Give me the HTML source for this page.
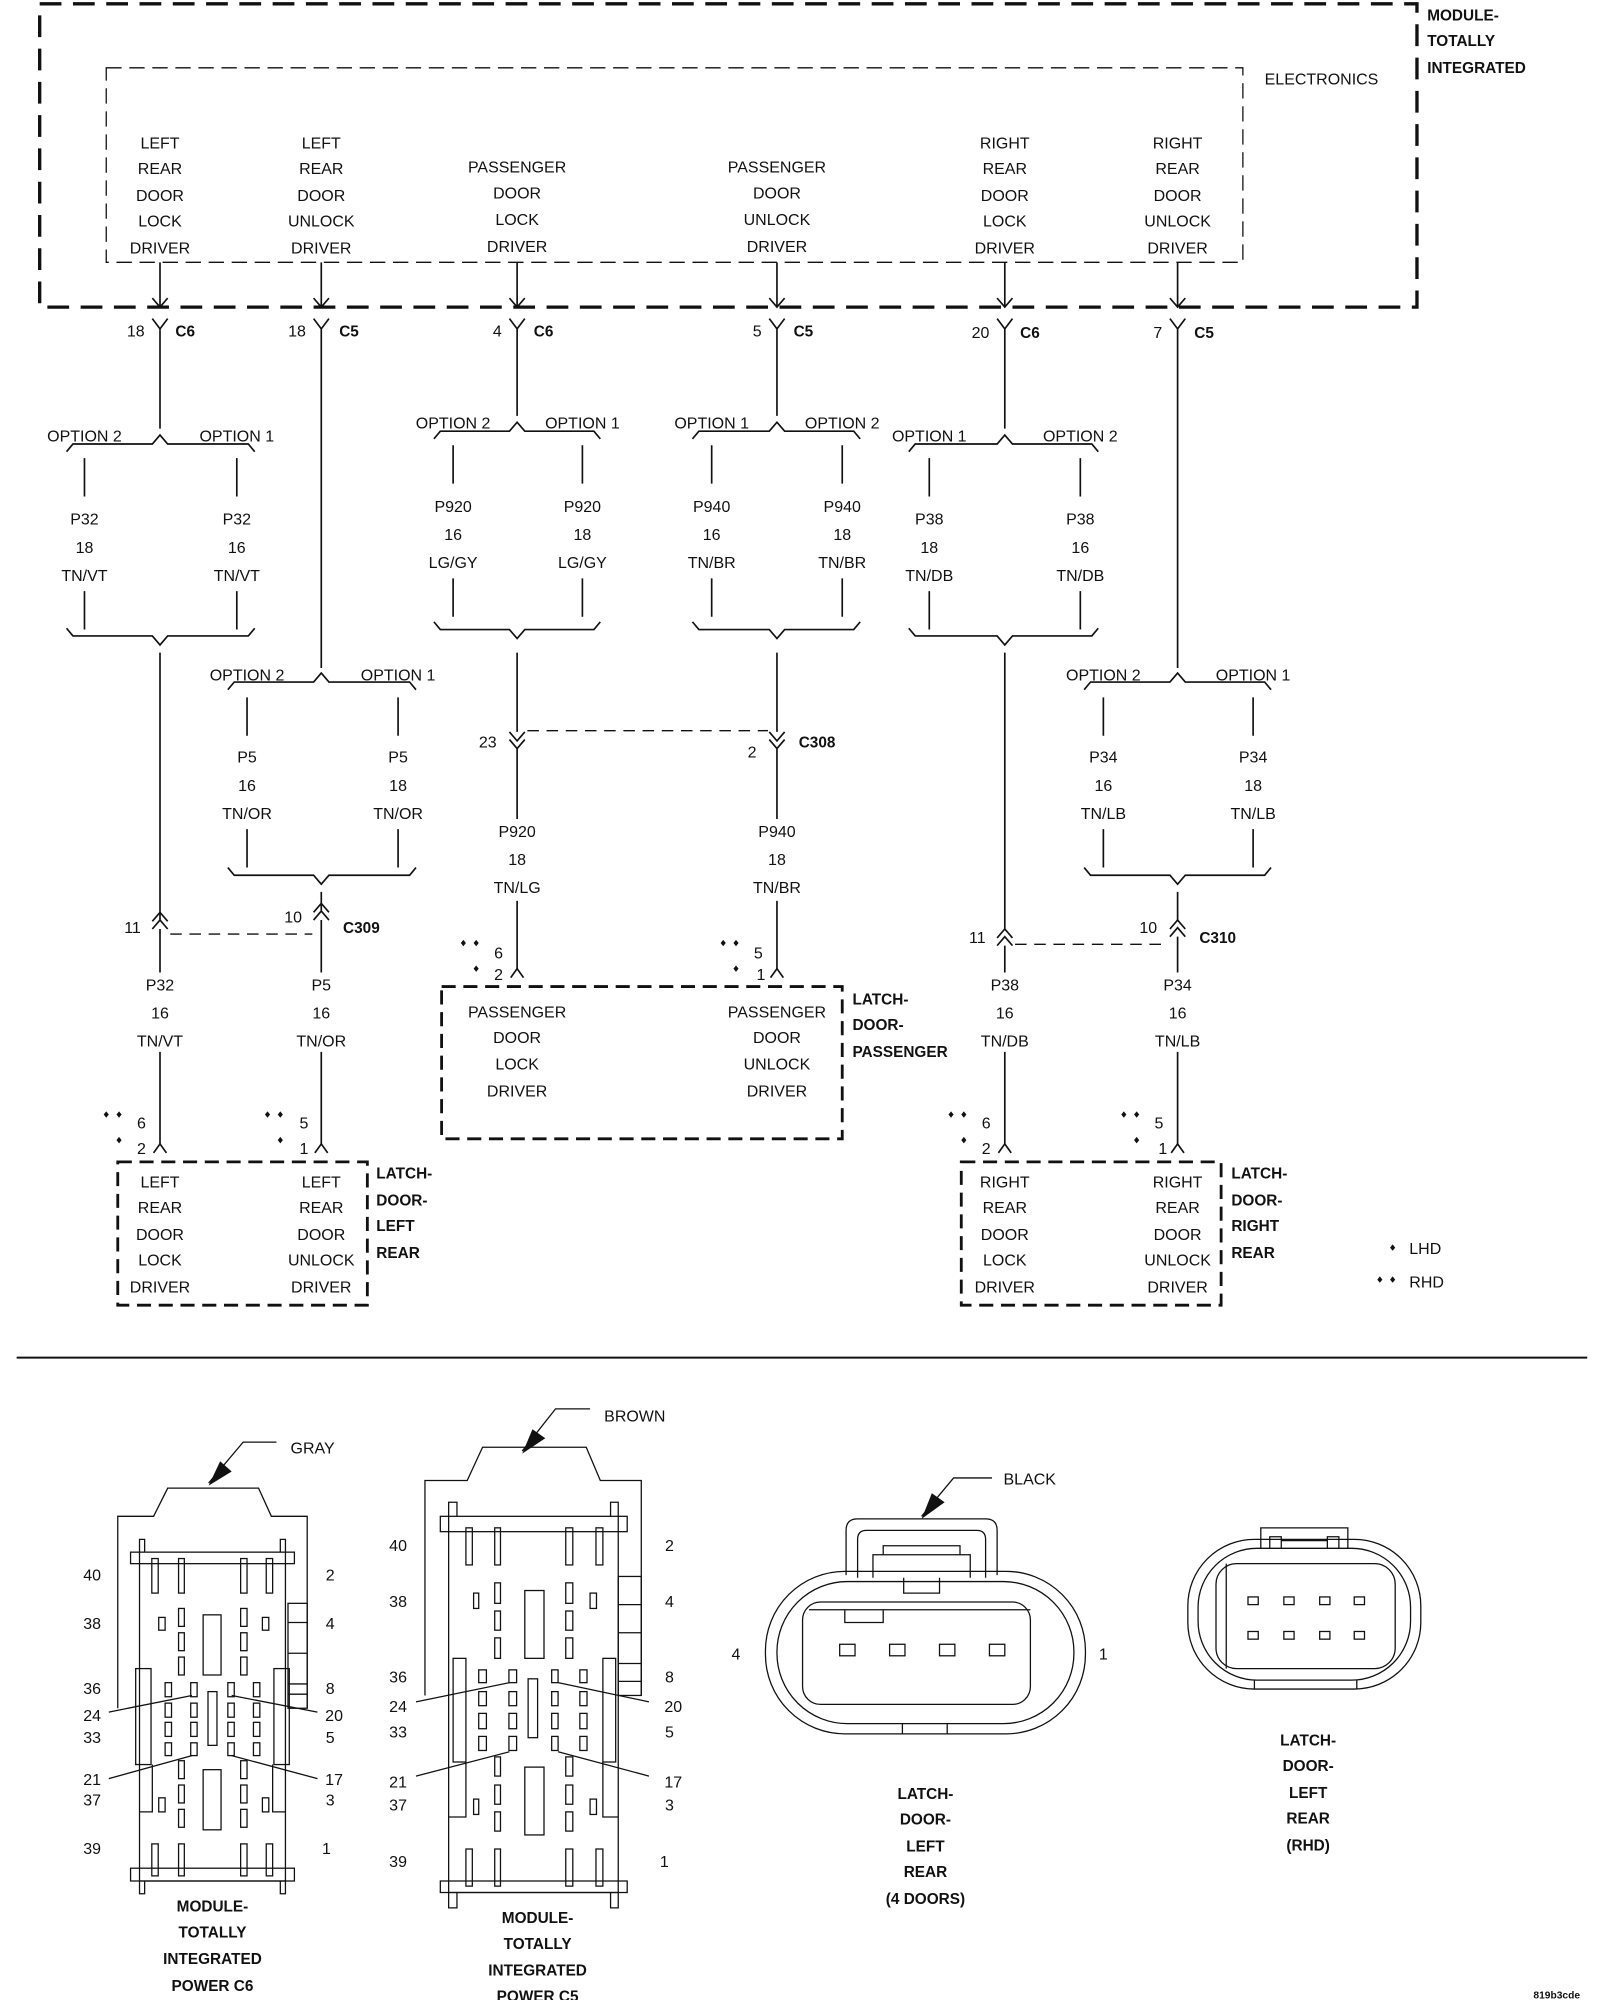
<!DOCTYPE html>
<html><head><meta charset="utf-8"><style>
html,body{margin:0;padding:0;background:#fff}
svg{display:block}
text{font-family:"Liberation Sans",sans-serif;font-size:12.5px;fill:#111}
.m{text-anchor:middle}.e{text-anchor:end}
.b{font-weight:bold;font-size:12px}
.l{fill:none;stroke:#111;stroke-width:1.3}
.t{fill:none;stroke:#111;stroke-width:1}
.d{fill:none;stroke:#111;stroke-width:2.6;stroke-dasharray:17 9}
.d2{fill:none;stroke:#111;stroke-width:2.2;stroke-dasharray:11 6}
.d3{fill:none;stroke:#111;stroke-width:1;stroke-dasharray:12 6}
.d4{fill:none;stroke:#111;stroke-width:1.1;stroke-dasharray:9 6}
.s{fill:#fff;stroke:#111;stroke-width:1}
</style></head><body>
<svg width="1600" height="2000" viewBox="0 0 1250 1563" preserveAspectRatio="none" xmlns="http://www.w3.org/2000/svg">
<rect x="0" y="0" width="1250" height="1563" fill="#fff"/>
<!-- module box -->
<rect x="31" y="3" width="1076" height="237" class="d"/>
<rect x="83" y="53" width="888" height="152" class="d3"/>
<text x="988" y="66">ELECTRONICS</text>
<text x="1115" y="16" class="b">MODULE-</text>
<text x="1115" y="36" class="b">TOTALLY</text>
<text x="1115" y="57" class="b">INTEGRATED</text>
<g class="m">
<text x="125" y="116">LEFT</text><text x="125" y="136">REAR</text><text x="125" y="157">DOOR</text><text x="125" y="177">LOCK</text><text x="125" y="198">DRIVER</text>
<text x="251" y="116">LEFT</text><text x="251" y="136">REAR</text><text x="251" y="157">DOOR</text><text x="251" y="177">UNLOCK</text><text x="251" y="198">DRIVER</text>
<text x="404" y="135">PASSENGER</text><text x="404" y="155">DOOR</text><text x="404" y="176">LOCK</text><text x="404" y="197">DRIVER</text>
<text x="607" y="135">PASSENGER</text><text x="607" y="155">DOOR</text><text x="607" y="176">UNLOCK</text><text x="607" y="197">DRIVER</text>
<text x="785" y="116">RIGHT</text><text x="785" y="136">REAR</text><text x="785" y="157">DOOR</text><text x="785" y="177">LOCK</text><text x="785" y="198">DRIVER</text>
<text x="920" y="116">RIGHT</text><text x="920" y="136">REAR</text><text x="920" y="157">DOOR</text><text x="920" y="177">UNLOCK</text><text x="920" y="198">DRIVER</text>
</g>
<!-- module pins -->
<g class="l">
<path d="M125 205V240M119 233L125 240L131 233M119 249L125 257L131 249M125 257V335"/>
<path d="M251 205V240M245 233L251 240L257 233M245 249L251 257L257 249M251 257V522"/>
<path d="M404 205V240M398 233L404 240L410 233M398 249L404 257L410 249M404 257V325"/>
<path d="M607 205V240M601 233L607 240L613 233M601 249L607 257L613 249M607 257V325"/>
<path d="M785 205V240M779 233L785 240L791 233M779 249L785 257L791 249M785 257V335"/>
<path d="M920 205V240M914 233L920 240L926 233M914 249L920 257L926 249M920 257V522"/>
</g>
<text x="113" y="263" class="e">18</text><text x="137" y="263" class="b">C6</text>
<text x="239" y="263" class="e">18</text><text x="265" y="263" class="b">C5</text>
<text x="392" y="263" class="e">4</text><text x="417" y="263" class="b">C6</text>
<text x="595" y="263" class="e">5</text><text x="620" y="263" class="b">C5</text>
<text x="773" y="264" class="e">20</text><text x="797" y="264" class="b">C6</text>
<text x="908" y="264" class="e">7</text><text x="933" y="264" class="b">C5</text>
<!-- braces -->
<g class="l">
<!-- g1 -->
<path d="M52 353L57 347H119L125 340L131 347H194L199 353"/>
<path d="M66 358V388M185 358V388M66 462V492M185 462V492"/>
<path d="M52 491L57 497H119L125 504L131 497H194L199 491M125 510V720"/>
<!-- g2 -->
<path d="M339 343L344 337H398L404 330L410 337H464L469 343"/>
<path d="M354 348V378M455 348V378M354 452V482M455 452V482"/>
<path d="M339 486L344 492H398L404 499L410 492H464L469 486M404 510V572"/>
<!-- g3 -->
<path d="M541 343L546 337H601L607 330L613 337H667L672 343"/>
<path d="M556 348V378M658 348V378M556 452V482M658 452V482"/>
<path d="M541 486L546 492H601L607 499L613 492H667L672 486M607 510V572"/>
<!-- g4 -->
<path d="M710 353L715 347H779L785 340L791 347H853L858 353"/>
<path d="M726 358V388M844 358V388M726 462V492M844 462V492"/>
<path d="M710 491L715 497H779L785 504L791 497H853L858 491M785 510V727"/>
<!-- g5 -->
<path d="M178 539L183 533H245L251 526L257 533H320L325 539"/>
<path d="M193 545V575M311 545V575M193 648V678M311 648V678"/>
<path d="M178 678L183 684H245L251 691L257 684H320L325 678M251 697V712"/>
<!-- g6 -->
<path d="M847 539L852 533H914L920 526L926 533H988L993 539"/>
<path d="M862 545V575M979 545V575M862 648V678M979 648V678"/>
<path d="M847 678L852 684H914L920 691L926 684H988L993 678M920 697V720"/>
</g>
<g class="m">
<text x="66" y="345">OPTION 2</text><text x="185" y="345">OPTION 1</text>
<text x="66" y="410">P32</text><text x="66" y="432">18</text><text x="66" y="454">TN/VT</text>
<text x="185" y="410">P32</text><text x="185" y="432">16</text><text x="185" y="454">TN/VT</text>
<text x="354" y="335">OPTION 2</text><text x="455" y="335">OPTION 1</text>
<text x="354" y="400">P920</text><text x="354" y="422">16</text><text x="354" y="444">LG/GY</text>
<text x="455" y="400">P920</text><text x="455" y="422">18</text><text x="455" y="444">LG/GY</text>
<text x="556" y="335">OPTION 1</text><text x="658" y="335">OPTION 2</text>
<text x="556" y="400">P940</text><text x="556" y="422">16</text><text x="556" y="444">TN/BR</text>
<text x="658" y="400">P940</text><text x="658" y="422">18</text><text x="658" y="444">TN/BR</text>
<text x="726" y="345">OPTION 1</text><text x="844" y="345">OPTION 2</text>
<text x="726" y="410">P38</text><text x="726" y="432">18</text><text x="726" y="454">TN/DB</text>
<text x="844" y="410">P38</text><text x="844" y="432">16</text><text x="844" y="454">TN/DB</text>
<text x="193" y="532">OPTION 2</text><text x="311" y="532">OPTION 1</text>
<text x="193" y="596">P5</text><text x="193" y="618">16</text><text x="193" y="640">TN/OR</text>
<text x="311" y="596">P5</text><text x="311" y="618">18</text><text x="311" y="640">TN/OR</text>
<text x="862" y="532">OPTION 2</text><text x="979" y="532">OPTION 1</text>
<text x="862" y="596">P34</text><text x="862" y="618">16</text><text x="862" y="640">TN/LB</text>
<text x="979" y="596">P34</text><text x="979" y="618">18</text><text x="979" y="640">TN/LB</text>
</g>
<!-- C308 -->
<g class="l">
<path d="M398 572L404 579L410 572M398 578L404 585L410 578M404 585V640M404 704V757"/>
<path d="M601 572L607 579L613 572M601 578L607 585L613 578M607 585V640M607 704V757"/>
</g>
<path d="M412 571H600" class="d4"/>
<text x="388" y="584" class="e">23</text><text x="591" y="592" class="e">2</text><text x="624" y="584" class="b">C308</text>
<g class="m">
<text x="404" y="654">P920</text><text x="404" y="676">18</text><text x="404" y="698">TN/LG</text>
<text x="607" y="654">P940</text><text x="607" y="676">18</text><text x="607" y="698">TN/BR</text>
</g>
<!-- C309 -->
<g class="l">
<path d="M119 720L125 713L131 720M119 726L125 719L131 726M125 726V760M125 822V895"/>
<path d="M245 713L251 706L257 713M245 719L251 712L257 719M251 719V760M251 822V895"/>
</g>
<path d="M133 730H244" class="d4"/>
<text x="110" y="729" class="e">11</text><text x="236" y="721" class="e">10</text><text x="268" y="729" class="b">C309</text>
<g class="m">
<text x="125" y="774">P32</text><text x="125" y="796">16</text><text x="125" y="818">TN/VT</text>
<text x="251" y="774">P5</text><text x="251" y="796">16</text><text x="251" y="818">TN/OR</text>
</g>
<!-- C310 -->
<g class="l">
<path d="M779 733L785 726L791 733M779 739L785 732L791 739M785 739V760M785 822V895"/>
<path d="M914 726L920 719L926 726M914 732L920 725L926 732M920 732V760M920 822V895"/>
</g>
<path d="M793 738H912" class="d4"/>
<text x="770" y="737" class="e">11</text><text x="904" y="729" class="e">10</text><text x="937" y="737" class="b">C310</text>
<g class="m">
<text x="785" y="774">P38</text><text x="785" y="796">16</text><text x="785" y="818">TN/DB</text>
<text x="920" y="774">P34</text><text x="920" y="796">16</text><text x="920" y="818">TN/LB</text>
</g>
<!-- pin arrows & dots -->
<g class="l">
<path d="M120 901L125 894L130 901M246 901L251 894L256 901M780 901L785 894L790 901M915 901L920 894L925 901M399 764L404 757L409 764M602 764L607 757L612 764"/>
</g>
<g fill="#111">
<path d="M81 871l2-2.5 2 2.5-2 2.5zM91 871l2-2.5 2 2.5-2 2.5zM91 891l2-2.5 2 2.5-2 2.5z"/>
<path d="M207 871l2-2.5 2 2.5-2 2.5zM217 871l2-2.5 2 2.5-2 2.5zM217 891l2-2.5 2 2.5-2 2.5z"/>
<path d="M741 871l2-2.5 2 2.5-2 2.5zM751 871l2-2.5 2 2.5-2 2.5zM751 891l2-2.5 2 2.5-2 2.5z"/>
<path d="M876 871l2-2.5 2 2.5-2 2.5zM886 871l2-2.5 2 2.5-2 2.5zM886 891l2-2.5 2 2.5-2 2.5z"/>
<path d="M360 737l2-2.5 2 2.5-2 2.5zM370 737l2-2.5 2 2.5-2 2.5zM370 757l2-2.5 2 2.5-2 2.5z"/>
<path d="M563 737l2-2.5 2 2.5-2 2.5zM573 737l2-2.5 2 2.5-2 2.5zM573 757l2-2.5 2 2.5-2 2.5z"/>
<path d="M1086 975l2-2.5 2 2.5-2 2.5zM1076 1000l2-2.5 2 2.5-2 2.5zM1086 1000l2-2.5 2 2.5-2 2.5z"/>
</g>
<text x="107" y="882">6</text><text x="107" y="902">2</text>
<text x="234" y="882">5</text><text x="234" y="902">1</text>
<text x="767" y="882">6</text><text x="767" y="902">2</text>
<text x="902" y="882">5</text><text x="905" y="902">1</text>
<text x="386" y="749">6</text><text x="386" y="766">2</text>
<text x="589" y="749">5</text><text x="591" y="766">1</text>
<text x="1101" y="980">LHD</text><text x="1101" y="1006">RHD</text>
<!-- latch boxes -->
<rect x="92" y="908" width="195" height="112" class="d2"/>
<rect x="345" y="771" width="313" height="119" class="d2"/>
<rect x="751" y="908" width="203" height="112" class="d2"/>
<g class="m">
<text x="125" y="928">LEFT</text><text x="125" y="948">REAR</text><text x="125" y="969">DOOR</text><text x="125" y="989">LOCK</text><text x="125" y="1010">DRIVER</text>
<text x="251" y="928">LEFT</text><text x="251" y="948">REAR</text><text x="251" y="969">DOOR</text><text x="251" y="989">UNLOCK</text><text x="251" y="1010">DRIVER</text>
<text x="404" y="795">PASSENGER</text><text x="404" y="815">DOOR</text><text x="404" y="836">LOCK</text><text x="404" y="857">DRIVER</text>
<text x="607" y="795">PASSENGER</text><text x="607" y="815">DOOR</text><text x="607" y="836">UNLOCK</text><text x="607" y="857">DRIVER</text>
<text x="785" y="928">RIGHT</text><text x="785" y="948">REAR</text><text x="785" y="969">DOOR</text><text x="785" y="989">LOCK</text><text x="785" y="1010">DRIVER</text>
<text x="920" y="928">RIGHT</text><text x="920" y="948">REAR</text><text x="920" y="969">DOOR</text><text x="920" y="989">UNLOCK</text><text x="920" y="1010">DRIVER</text>
</g>
<text x="294" y="921" class="b">LATCH-</text><text x="294" y="942" class="b">DOOR-</text><text x="294" y="962" class="b">LEFT</text><text x="294" y="983" class="b">REAR</text>
<text x="666" y="785" class="b">LATCH-</text><text x="666" y="805" class="b">DOOR-</text><text x="666" y="826" class="b">PASSENGER</text>
<text x="962" y="921" class="b">LATCH-</text><text x="962" y="942" class="b">DOOR-</text><text x="962" y="962" class="b">RIGHT</text><text x="962" y="983" class="b">REAR</text>
<!-- divider -->
<path d="M13 1061H1240" stroke="#111" stroke-width="1.5"/>

<!-- C6 connector -->
<g class="t">
<path d="M92 1335V1185H120L131 1163H202L212 1185H240V1335"/>
<path d="M163 1159L190 1127H216"/>
<rect x="102" y="1213" width="128" height="9"/>
<path d="M109 1213V1470H223V1213"/>
<rect x="102" y="1460" width="128" height="10"/>
<path d="M109 1470V1480H113V1470M219 1470V1480H223V1470M109 1213V1203H113V1213M219 1213V1203H223V1213"/>
<rect x="106" y="1304" width="12" height="75"/><rect x="214" y="1304" width="12" height="75"/>
<path d="M119 1379V1416H109M213 1379V1416H223"/>
<rect x="225" y="1253" width="15" height="82"/>
<path d="M225 1268H240M225 1292H240M225 1316H240M225 1324H240"/>
<rect x="118.6" y="1218" width="5" height="27"/><rect x="139.5" y="1218" width="4.5" height="27"/><rect x="188" y="1218" width="5" height="27"/><rect x="208" y="1218" width="5" height="27"/>
<rect x="158.7" y="1262" width="14" height="47"/>
<rect x="124" y="1264" width="5" height="10"/><rect x="205" y="1264" width="5" height="10"/>
<rect x="139.5" y="1257" width="4.5" height="14"/><rect x="139.5" y="1276" width="4.5" height="14"/><rect x="139.5" y="1295" width="4.5" height="14"/>
<rect x="188" y="1257" width="5" height="14"/><rect x="188" y="1276" width="5" height="14"/><rect x="188" y="1295" width="5" height="14"/>
<rect x="129" y="1315" width="5" height="11"/><rect x="149" y="1315" width="5" height="11"/><rect x="178" y="1315" width="5" height="11"/><rect x="198" y="1315" width="5" height="11"/>
<rect x="129" y="1331" width="5" height="11"/><rect x="149" y="1331" width="5" height="11"/><rect x="178" y="1331" width="5" height="11"/><rect x="198" y="1331" width="5" height="11"/>
<rect x="129" y="1346" width="5" height="11"/><rect x="149" y="1346" width="5" height="11"/><rect x="178" y="1346" width="5" height="11"/><rect x="198" y="1346" width="5" height="11"/>
<rect x="129" y="1362" width="5" height="10"/><rect x="149" y="1362" width="5" height="10"/><rect x="178" y="1362" width="5" height="10"/><rect x="198" y="1362" width="5" height="10"/>
<rect x="162.5" y="1322" width="7" height="42"/>
<rect x="139.5" y="1376" width="4.5" height="14"/><rect x="139.5" y="1395" width="4.5" height="14"/><rect x="139.5" y="1414" width="4.5" height="14"/>
<rect x="188" y="1376" width="5" height="14"/><rect x="188" y="1395" width="5" height="14"/><rect x="188" y="1414" width="5" height="14"/>
<rect x="158.7" y="1383" width="14" height="47"/>
<rect x="124" y="1405" width="5" height="11"/><rect x="205" y="1405" width="5" height="11"/>
<rect x="118.6" y="1441" width="5" height="25"/><rect x="139.5" y="1441" width="4.5" height="25"/><rect x="188" y="1441" width="5" height="25"/><rect x="208" y="1441" width="5" height="25"/>
<path d="M85 1338L150 1325M181 1325L248 1338M85 1390L150 1372M181 1372L248 1390"/>
</g>
<path d="M163 1161L172 1142L181 1150Z" fill="#111"/>
<text x="227" y="1136">GRAY</text>
<g class="m">
<text x="72" y="1235">40</text><text x="72" y="1273">38</text><text x="72" y="1324">36</text><text x="72" y="1345">24</text><text x="72" y="1362">33</text><text x="72" y="1395">21</text><text x="72" y="1411">37</text><text x="72" y="1449">39</text>
<text x="258" y="1235">2</text><text x="258" y="1273">4</text><text x="258" y="1324">8</text><text x="261" y="1345">20</text><text x="258" y="1362">5</text><text x="261" y="1395">17</text><text x="258" y="1411">3</text><text x="255" y="1449">1</text>
<text x="166" y="1494" class="b">MODULE-</text><text x="166" y="1514" class="b">TOTALLY</text><text x="166" y="1535" class="b">INTEGRATED</text><text x="166" y="1556" class="b">POWER C6</text>
</g>

<!-- C5 connector -->
<g class="t">
<path d="M332 1325V1157H365L377 1131H458L469 1157H501V1325"/>
<path d="M408 1134L434 1101H461"/>
<rect x="344" y="1185" width="146" height="12"/>
<path d="M350.5 1185V1479H483V1185"/>
<rect x="344" y="1470" width="146" height="9"/>
<path d="M350.5 1479V1491H357V1479M477 1479V1491H483V1479M350.5 1185V1174H357V1185M477 1185V1174H483V1185"/>
<rect x="354" y="1296" width="10" height="81"/><rect x="471" y="1296" width="10" height="81"/>
<path d="M364 1377V1420H350.5M471 1377V1420H483"/>
<rect x="483" y="1232" width="18" height="93"/>
<path d="M483 1254H501M483 1276H501M483 1300H501M483 1314H501"/>
<rect x="364" y="1194" width="5" height="29"/><rect x="386.5" y="1194" width="4.5" height="29"/><rect x="442" y="1194" width="5.5" height="29"/><rect x="465.6" y="1194" width="5.4" height="29"/>
<rect x="410" y="1243" width="15" height="53"/>
<rect x="370" y="1245" width="4" height="12"/><rect x="461" y="1245" width="5" height="12"/>
<rect x="386.5" y="1237" width="4.5" height="16"/><rect x="386.5" y="1259" width="4.5" height="15"/><rect x="386.5" y="1280" width="4.5" height="16"/>
<rect x="442" y="1237" width="5.5" height="16"/><rect x="442" y="1259" width="5.5" height="15"/><rect x="442" y="1280" width="5.5" height="16"/>
<rect x="374" y="1305" width="6" height="10"/><rect x="397.6" y="1305" width="6" height="10"/><rect x="431" y="1305" width="5" height="10"/><rect x="453" y="1305" width="5.6" height="10"/>
<rect x="374" y="1322" width="6" height="11"/><rect x="397.6" y="1322" width="6" height="11"/><rect x="431" y="1322" width="5" height="11"/><rect x="453" y="1322" width="5.6" height="11"/>
<rect x="374" y="1339" width="6" height="12"/><rect x="397.6" y="1339" width="6" height="12"/><rect x="431" y="1339" width="5" height="12"/><rect x="453" y="1339" width="5.6" height="12"/>
<rect x="374" y="1357" width="6" height="11"/><rect x="397.6" y="1357" width="6" height="11"/><rect x="431" y="1357" width="5" height="11"/><rect x="453" y="1357" width="5.6" height="11"/>
<rect x="412.6" y="1312" width="7.4" height="46"/>
<rect x="386.5" y="1373" width="4.5" height="15"/><rect x="386.5" y="1395" width="4.5" height="15"/><rect x="386.5" y="1416" width="4.5" height="15"/>
<rect x="442" y="1373" width="5.5" height="15"/><rect x="442" y="1395" width="5.5" height="15"/><rect x="442" y="1416" width="5.5" height="15"/>
<rect x="410" y="1381" width="15" height="53"/>
<rect x="370" y="1406" width="4" height="12"/><rect x="461" y="1406" width="5" height="12"/>
<rect x="364" y="1445" width="5" height="29"/><rect x="386.5" y="1445" width="4.5" height="29"/><rect x="442" y="1445" width="5.5" height="29"/><rect x="465.6" y="1445" width="5.4" height="29"/>
<path d="M325 1330L398 1315M436 1315L507 1330M325 1388L398 1369M436 1369L507 1388"/>
</g>
<path d="M408 1136L416 1117L426 1124Z" fill="#111"/>
<text x="472" y="1111">BROWN</text>
<g class="m">
<text x="311" y="1212">40</text><text x="311" y="1256">38</text><text x="311" y="1315">36</text><text x="311" y="1338">24</text><text x="311" y="1358">33</text><text x="311" y="1397">21</text><text x="311" y="1415">37</text><text x="311" y="1459">39</text>
<text x="523" y="1212">2</text><text x="523" y="1256">4</text><text x="523" y="1315">8</text><text x="526" y="1338">20</text><text x="523" y="1358">5</text><text x="526" y="1397">17</text><text x="523" y="1415">3</text><text x="519" y="1459">1</text>
<text x="420" y="1503" class="b">MODULE-</text><text x="420" y="1523" class="b">TOTALLY</text><text x="420" y="1544" class="b">INTEGRATED</text><text x="420" y="1564" class="b">POWER C5</text>
<text x="404" y="1416" class="m"></text>
</g>
<text x="404" y="1416"></text>

<!-- Black latch connector -->
<g class="t">
<rect x="598" y="1228" width="250" height="127" rx="62" ry="62"/>
<rect x="607" y="1236" width="232" height="111" rx="55" ry="55"/>
<path d="M661 1231V1196Q661 1187 670 1187H770Q779 1187 779 1196V1231"/>
<path d="M670 1233V1203Q670 1196 677 1196H763Q770 1196 770 1203V1233"/>
<path d="M682 1233V1215H758V1233M690 1215V1208H750V1215"/>
<path d="M706 1233V1245H734V1233"/>
<rect x="627" y="1252" width="178" height="80" rx="14"/>
<path d="M632 1258H805M660 1258V1268H690V1258"/>
<rect x="656" y="1285" width="12" height="9"/><rect x="695" y="1285" width="12" height="9"/><rect x="734" y="1285" width="12" height="9"/><rect x="773" y="1285" width="12" height="9"/>
<path d="M705 1347V1355M740 1347V1355"/>
<path d="M720 1185L745 1155H775"/>
</g>
<path d="M720 1187L728 1167L738 1174Z" fill="#111"/>
<text x="784" y="1160">BLACK</text>
<text x="575" y="1297" class="m">4</text><text x="862" y="1297" class="m">1</text>
<g class="m">
<text x="723" y="1406" class="b">LATCH-</text><text x="723" y="1426" class="b">DOOR-</text><text x="723" y="1447" class="b">LEFT</text><text x="723" y="1467" class="b">REAR</text><text x="723" y="1488" class="b">(4 DOORS)</text>
</g>

<!-- RHD connector -->
<g class="t">
<rect x="928" y="1203" width="182" height="117" rx="52" ry="52"/>
<rect x="936" y="1210" width="166" height="103" rx="46" ry="46"/>
<rect x="950" y="1222" width="140" height="82" rx="16"/>
<path d="M985 1210V1194H1053V1210M992 1210V1201H1001V1210M1037 1210V1201H1046V1210M1001 1204H1037"/>
<path d="M958 1222V1304M980 1313V1320M1060 1313V1320"/>
<rect x="975" y="1248" width="8" height="6"/><rect x="1003" y="1248" width="8" height="6"/><rect x="1031" y="1248" width="8" height="6"/><rect x="1058" y="1248" width="8" height="6"/>
<rect x="975" y="1275" width="8" height="6"/><rect x="1003" y="1275" width="8" height="6"/><rect x="1031" y="1275" width="8" height="6"/><rect x="1058" y="1275" width="8" height="6"/>
</g>
<g class="m">
<text x="1022" y="1364" class="b">LATCH-</text><text x="1022" y="1384" class="b">DOOR-</text><text x="1022" y="1405" class="b">LEFT</text><text x="1022" y="1425" class="b">REAR</text><text x="1022" y="1446" class="b">(RHD)</text>
</g>
<text x="1198" y="1562" style="font-size:8px;font-weight:bold">819b3cde</text>
</svg>
</body></html>
